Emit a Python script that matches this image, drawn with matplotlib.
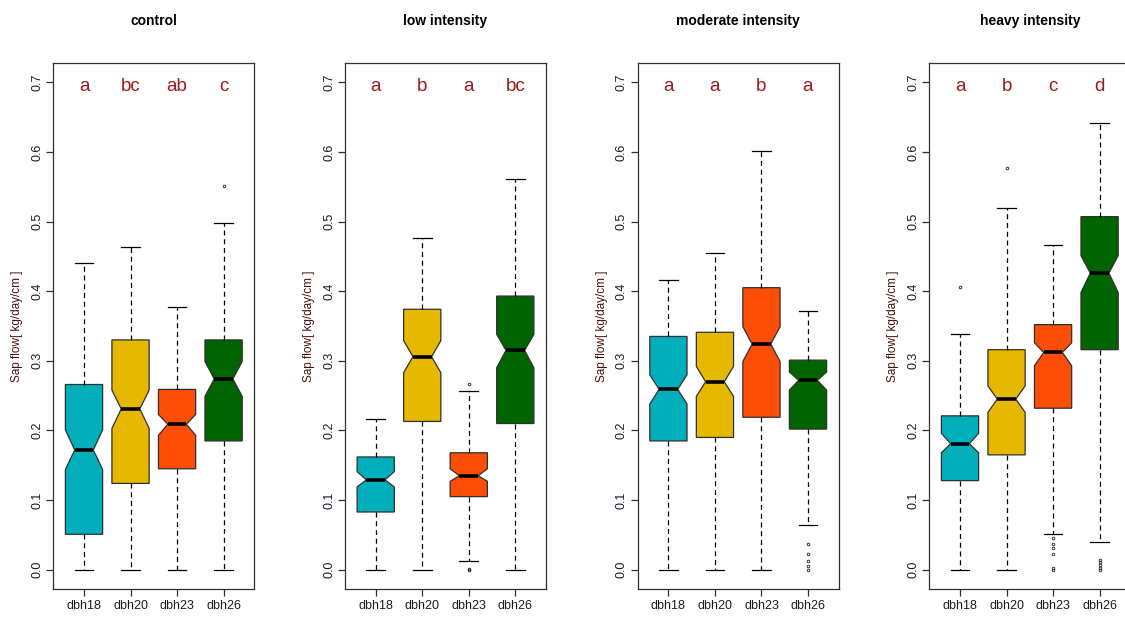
import matplotlib.pyplot as plt

plt.rcParams['font.family'] = ['Liberation Sans', 'DejaVu Sans']

panels = ['control', 'low intensity', 'moderate intensity', 'heavy intensity']
groups = ['dbh18', 'dbh20', 'dbh23', 'dbh26']
colors = ['#00AFBB', '#E7B800', '#FC4E07', '#006400']

# box statistics per panel (rows) and diameter class (columns)
whisker_low = [[0.0, 0.0, 0.0, 0.0],
               [0.0, 0.0, 0.012, 0.0],
               [0.0, 0.0, 0.0, 0.064],
               [0.0, 0.0, 0.052, 0.040]]
q1 = [[0.051, 0.124, 0.145, 0.185],
      [0.083, 0.213, 0.105, 0.210],
      [0.185, 0.190, 0.219, 0.202],
      [0.128, 0.165, 0.232, 0.316]]
median = [[0.172, 0.231, 0.209, 0.274],
          [0.129, 0.306, 0.135, 0.315],
          [0.259, 0.270, 0.324, 0.272],
          [0.181, 0.245, 0.312, 0.426]]
q3 = [[0.266, 0.330, 0.259, 0.330],
      [0.162, 0.374, 0.168, 0.393],
      [0.335, 0.341, 0.405, 0.301],
      [0.221, 0.316, 0.352, 0.507]]
whisker_high = [[0.440, 0.463, 0.377, 0.498],
                [0.217, 0.477, 0.256, 0.561],
                [0.416, 0.455, 0.601, 0.372],
                [0.339, 0.520, 0.467, 0.642]]
notch_low = [[0.144, 0.203, 0.193, 0.249],
             [0.119, 0.283, 0.127, 0.290],
             [0.238, 0.249, 0.299, 0.258],
             [0.168, 0.226, 0.293, 0.398]]
notch_high = [[0.201, 0.258, 0.223, 0.299],
              [0.141, 0.329, 0.145, 0.338],
              [0.280, 0.292, 0.349, 0.284],
              [0.196, 0.264, 0.326, 0.451]]
outliers = [[[], [], [], [0.551]],
            [[], [], [0.267, 0.001, 0.0], []],
            [[], [], [], [0.037, 0.023, 0.012, 0.006, 0.0]],
            [[0.406], [0.577], [0.046, 0.037, 0.031, 0.022, 0.003, 0.0],
             [0.014, 0.011, 0.007, 0.003, 0.0]]]
letters = [['a', 'bc', 'ab', 'c'],
           ['a', 'b', 'a', 'bc'],
           ['a', 'a', 'b', 'a'],
           ['a', 'b', 'c', 'd']]
letter_y = 0.7

W, H = 1125, 621
fig = plt.figure(figsize=(W / 100, H / 100), dpi=100)

lefts = [53.3, 345.0, 637.7, 929.3]
ax_w, top, bottom = 201.0, 62.7, 589.3

for p, name in enumerate(panels):
    ax = fig.add_axes([lefts[p] / W, (H - bottom) / H, ax_w / W, (bottom - top) / H])
    stats = []
    for g in range(4):
        stats.append(dict(whislo=whisker_low[p][g], q1=q1[p][g], med=median[p][g],
                          q3=q3[p][g], whishi=whisker_high[p][g],
                          cilo=notch_low[p][g], cihi=notch_high[p][g],
                          fliers=outliers[p][g], label=groups[g]))
    bp = ax.bxp(stats, positions=[1, 2, 3, 4], widths=0.8, shownotches=True,
                patch_artist=True, capwidths=0.4,
                boxprops=dict(edgecolor='#303030', linewidth=0.9),
                whiskerprops=dict(color='black', linewidth=0.9, linestyle=(0, (4, 3))),
                capprops=dict(color='black', linewidth=0.9),
                medianprops=dict(color='black', linewidth=2.6, solid_capstyle='butt'),
                flierprops=dict(marker='o', markersize=1.9, markerfacecolor='none',
                                markeredgecolor='#202020', markeredgewidth=0.6))
    for patch, c in zip(bp['boxes'], colors):
        patch.set_facecolor(c)

    # significance letters above each box
    for g in range(4):
        ax.annotate(letters[p][g], (g + 1, letter_y), xytext=(0, -6.5),
                    textcoords='offset points', ha='center', va='baseline',
                    fontsize=13.5, color='#9E1B1B')

    ax.set_xlim(0.34, 4.66)
    ax.set_ylim(-0.028, 0.728)
    ax.set_yticks([0.0, 0.1, 0.2, 0.3, 0.4, 0.5, 0.6, 0.7])
    ax.set_yticklabels(['0.0', '0.1', '0.2', '0.3', '0.4', '0.5', '0.6', '0.7'],
                       rotation=90, va='center', fontsize=9)
    ax.tick_params(axis='both', length=5, width=0.9, color='#303030', labelsize=9,
                   labelcolor='#1A1A2A')
    ax.tick_params(axis='y', pad=2)
    ax.tick_params(axis='x', pad=3)
    for s in ax.spines.values():
        s.set_color('#303030')
        s.set_linewidth(0.9)
    ax.set_ylabel('Sap flow[ kg/day/cm ]', fontsize=8.5, color='#4A1010', labelpad=6)
    ax.set_title(name, fontsize=10, fontweight='bold', pad=27)

fig.savefig('out.png', dpi=100)
